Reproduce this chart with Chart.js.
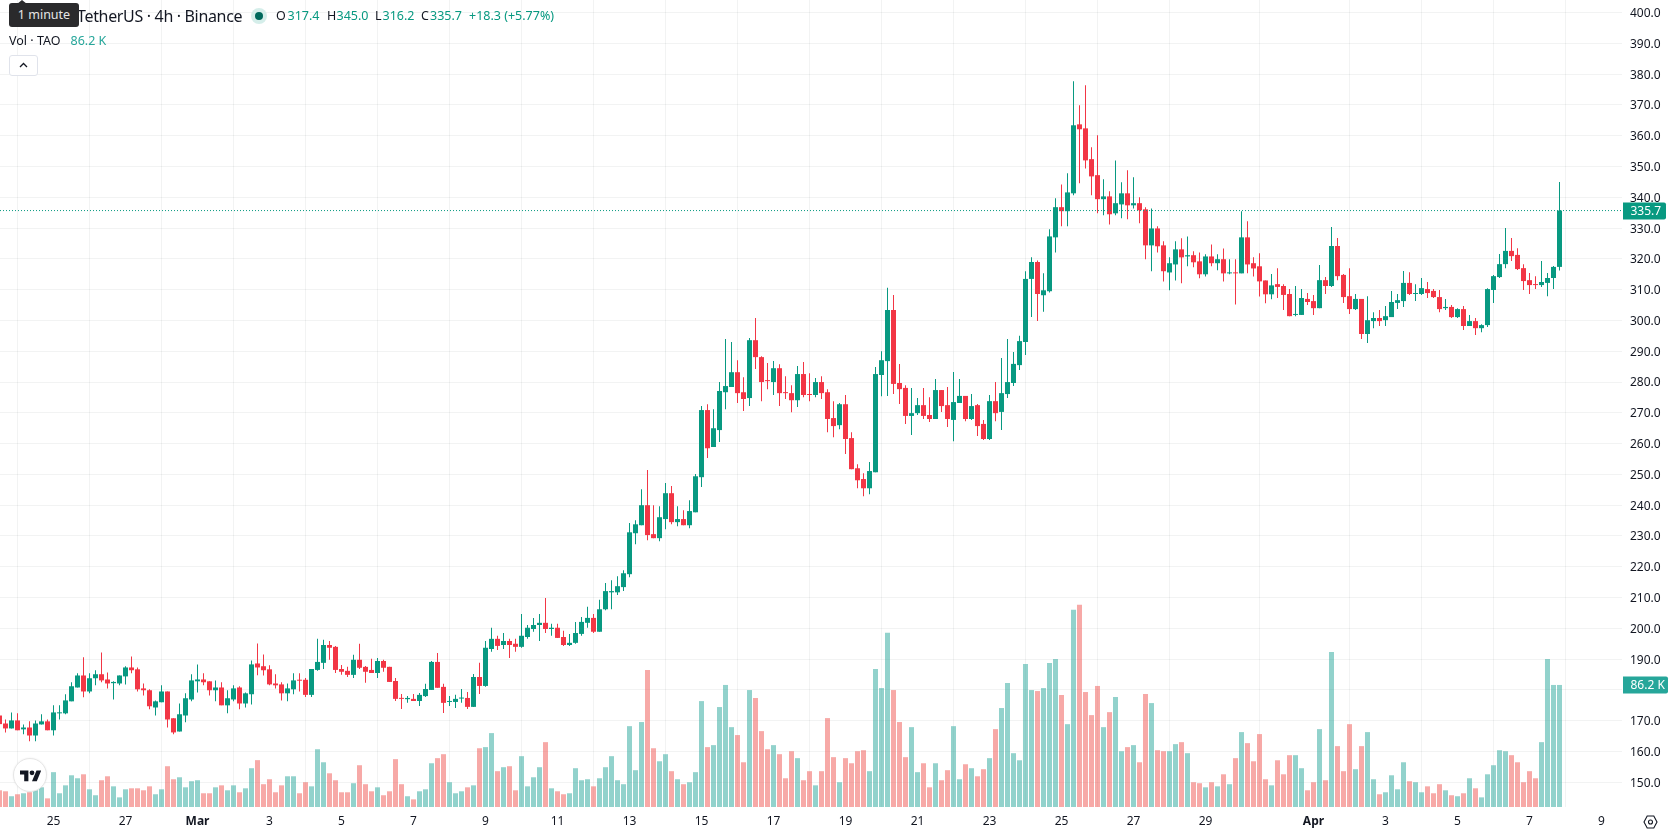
<!DOCTYPE html>
<html lang="en">
<head>
<meta charset="utf-8">
<title>TetherUS · 4h · Binance</title>
<script src="https://cdn.jsdelivr.net/npm/chart.js@4/dist/chart.umd.min.js"></script>
<style>
  html, body { margin: 0; padding: 0; background: #fff; }
  body { width: 1678px; height: 835px; position: relative; overflow: hidden; font-family: "Noto Sans", sans-serif; color: #131722; }
  canvas { position: absolute; left: 0; top: 0; }
  .t { position: absolute; white-space: nowrap; font-size: 12.5px; line-height: 16px; pointer-events: none; }
  .g { color: #089981; }
  .v { color: #26a69a; }
  #tip { position: absolute; left: 9px; top: 3px; width: 70px; height: 24px; background: #2a2a2c; border-radius: 3px; color: #e6e6e6; font-size: 12.5px; line-height: 24px; text-align: center; }
  #tip::before { content: ""; position: absolute; left: 8px; top: -3px; border-left: 5px solid transparent; border-right: 5px solid transparent; border-bottom: 4px solid #2a2a2c; }
  #dot { position: absolute; left: 251px; top: 8px; width: 16px; height: 16px; border-radius: 50%; background: #d5eeea; }
  #dot::after { content: ""; position: absolute; left: 4px; top: 4px; width: 8px; height: 8px; border-radius: 50%; background: #00695c; }
  #fold { position: absolute; left: 9px; top: 55px; width: 27px; height: 19px; border: 1px solid #e0e3eb; border-radius: 3px; background: #fff; }
  #brand { position: absolute; left: 13px; top: 758px; width: 32px; height: 32px; border: 1px solid #e6e6e6; border-radius: 50%; background: #fff; box-shadow: 0 0 2px rgba(0,0,0,.08); }
  svg { position: absolute; display: block; }
</style>
</head>
<body>
<canvas id="chart" width="1678" height="835"></canvas>

<span class="t" style="left:77px;top:7px;font-size:16px;line-height:18px;letter-spacing:-0.33px">TetherUS · 4h · Binance</span>
<div id="dot"></div>
<span class="t" style="left:276px;top:8px">O</span><span class="t g" style="left:287.5px;top:8px">317.4</span>
<span class="t" style="left:327px;top:8px">H</span><span class="t g" style="left:336.5px;top:8px">345.0</span>
<span class="t" style="left:375px;top:8px">L</span><span class="t g" style="left:382.5px;top:8px">316.2</span>
<span class="t" style="left:421px;top:8px">C</span><span class="t g" style="left:430px;top:8px">335.7</span>
<span class="t g" style="left:469px;top:8px">+18.3 (+5.77%)</span>
<span class="t" style="left:9px;top:33px">Vol · TAO</span>
<span class="t v" style="left:70.5px;top:33px">86.2 K</span>
<div id="fold"><svg style="left:9px;top:6px" width="9" height="6" viewBox="0 0 9 6"><path d="M1 5 L4.5 1.5 L8 5" fill="none" stroke="#131722" stroke-width="1.3"/></svg></div>
<div id="tip">1 minute</div>
<div id="brand"><svg style="left:5.5px;top:8.5px" width="21.6" height="16.8" viewBox="0 0 36 28"><path fill="#131722" d="M14 22H7V11H0V4h14v18zM28 22h-8l7.5-18h8L28 22z"/><circle fill="#131722" cx="20" cy="8" r="4"/></svg></div>
<svg style="left:1643px;top:815px" width="15" height="14" viewBox="0 0 15 14"><path d="M4.2 1 H10.8 L14 7 L10.8 13 H4.2 L1 7 Z" fill="none" stroke="#131722" stroke-width="1.1"/><circle cx="7.5" cy="7" r="2" fill="none" stroke="#131722" stroke-width="1.1"/></svg>

<script>
// TAO/USDT four-hour candles, one entry per bar, oldest first.
const opens = [
  171.7,169.1,167.5,170.1,167.2,167.8,165.2,168.8,169.8,166.9,
  172.4,172.4,176.3,180.8,184.7,179.5,183.8,185.1,183.4,182.2,
  182.1,184.4,187.3,186.7,180.5,179.9,174.3,176.0,179.5,170.8,
  166.5,171.7,176.9,182.8,183.4,182.8,179.9,180.8,175.0,176.9,
  180.8,175.6,178.6,188.6,187.7,186.7,182.1,181.8,178.9,180.2,
  183.3,183.3,178.4,186.5,188.8,194.6,194.0,186.8,186.2,184.9,
  189.8,187.5,186.5,185.5,189.4,187.5,182.9,177.4,177.0,177.1,
  176.4,178.0,180.0,189.1,181.0,176.1,176.1,177.2,177.4,174.5,
  184.2,181.3,193.3,196.6,194.6,195.9,195.0,194.0,197.2,199.8,
  201.1,201.8,199.8,200.2,197.2,194.6,195.3,198.2,201.8,203.4,
  198.9,206.2,211.7,211.7,213.4,217.6,230.9,233.5,240.0,230.6,
  229.3,235.5,243.9,234.5,235.5,233.5,237.7,249.1,270.9,258.9,
  264.4,276.7,278.4,283.2,276.7,274.8,293.6,288.1,280.6,280.0,
  284.5,276.7,276.4,274.1,282.6,276.1,275.8,280.0,276.7,268.3,
  266.0,272.8,261.8,252.0,248.5,245.5,250.7,282.3,286.8,303.4,
  279.7,278.1,269.0,269.9,272.5,269.3,268.0,277.4,272.5,267.7,
  273.2,275.5,268.0,272.5,266.4,261.5,273.8,270.3,276.1,279.7,
  285.5,293.0,313.5,319.0,308.2,309.5,327.0,336.8,335.5,341.3,
  363.7,362.4,352.4,347.2,339.4,340.3,334.8,337.7,341.3,337.4,
  338.1,336.1,324.4,329.9,324.4,315.6,318.2,323.1,320.8,321.2,
  319.2,315.0,320.8,318.6,319.9,315.3,315.6,315.3,327.0,318.6,
  317.6,313.0,308.5,311.8,311.2,308.6,301.8,301.8,307.0,306.3,
  304.0,313.1,311.2,324.2,314.8,307.9,303.7,307.0,295.6,299.8,
  300.8,300.1,301.1,305.7,306.3,312.2,308.6,308.6,310.2,309.6,
  307.6,304.0,304.4,301.1,303.7,298.2,299.8,297.5,298.5,309.9,
  314.1,318.3,322.6,321.3,317.0,313.1,311.8,311.5,312.2,313.8,
  317.4
];
const closes = [
  168.9,167.5,170.1,166.9,167.8,165.2,169.1,169.8,166.9,172.7,
  172.7,176.6,181.2,184.7,179.5,183.8,185.1,183.1,182.1,182.6,
  184.7,187.3,186.4,180.2,179.9,174.7,176.3,179.5,170.4,166.2,
  172.1,177.3,183.1,183.4,182.5,179.9,180.8,175.0,177.3,180.5,
  175.6,178.9,188.3,187.3,186.4,181.8,181.5,178.9,180.5,183.1,
  183.0,178.4,186.8,189.1,194.6,193.7,186.5,185.9,184.9,189.8,
  187.2,185.9,185.5,189.4,187.2,182.6,177.1,177.1,177.4,176.4,
  178.4,180.3,189.1,180.7,175.8,176.4,177.1,177.4,174.5,184.2,
  181.3,193.7,196.6,194.3,195.9,194.6,194.0,197.6,200.2,201.1,
  201.8,199.8,200.2,196.9,194.6,195.3,198.5,202.1,203.4,198.9,
  206.2,212.1,212.1,213.7,217.9,231.2,233.8,240.0,230.3,229.3,
  236.1,243.9,234.5,235.5,233.5,238.1,249.4,270.9,258.5,265.0,
  277.1,278.7,283.2,276.4,274.5,293.6,288.1,280.0,280.3,284.5,
  276.4,276.4,274.1,282.6,275.8,275.8,280.0,276.4,268.0,265.7,
  272.8,261.5,251.7,248.1,245.5,251.1,282.6,287.1,303.4,279.4,
  277.7,269.0,269.9,272.5,269.0,268.0,277.4,272.2,268.0,273.5,
  275.5,268.0,272.2,265.7,261.5,273.8,269.9,276.4,280.0,285.9,
  293.3,313.5,319.0,308.6,309.8,327.3,336.8,335.5,341.6,363.4,
  362.1,352.0,346.8,339.4,340.3,334.5,338.1,341.3,337.4,338.1,
  335.8,324.4,329.9,324.1,316.0,318.6,323.1,320.5,321.2,318.9,
  315.0,320.8,318.6,319.9,315.3,315.6,315.3,327.0,318.2,316.9,
  312.7,308.5,311.4,310.9,308.3,301.4,302.1,307.3,306.0,304.0,
  313.1,311.2,324.2,314.4,307.6,303.7,307.0,295.6,300.1,300.8,
  299.8,301.4,306.0,306.6,312.2,308.6,308.9,310.5,308.9,307.6,
  303.7,304.4,301.1,303.7,298.2,299.8,297.5,298.5,310.2,314.4,
  318.3,322.6,320.9,316.7,312.8,311.5,311.5,312.5,313.8,317.4,
  335.7
];
const highs = [
  171.9,170.4,172.7,172.4,168.8,169.8,170.1,172.1,170.4,175.0,
  175.0,178.6,182.5,185.4,190.6,185.4,186.4,192.2,185.7,182.8,
  184.7,187.7,190.9,187.3,182.1,180.2,176.6,181.5,179.5,170.8,
  175.6,178.9,185.1,188.3,185.4,182.8,183.1,182.5,179.9,181.5,
  181.2,179.2,189.6,195.1,191.5,188.0,185.1,182.5,182.1,185.4,
  185.4,183.9,186.8,196.6,196.3,195.9,194.3,188.1,187.5,191.4,
  195.0,187.8,190.1,190.4,189.8,187.5,183.9,178.7,178.0,178.7,
  179.0,182.0,189.4,192.0,182.0,178.0,178.4,180.3,179.3,185.2,
  188.8,195.9,200.2,197.6,198.5,196.6,196.6,204.7,201.1,203.4,
  204.7,209.9,201.5,201.5,199.2,198.2,202.1,203.7,207.0,204.7,
  209.3,214.7,215.6,216.9,218.9,234.2,235.1,245.2,251.4,240.0,
  239.7,247.2,246.2,239.7,238.4,241.6,250.1,272.2,272.8,271.2,
  280.0,294.0,293.0,287.1,281.6,294.3,300.8,288.4,286.2,286.8,
  285.8,281.9,279.0,285.2,286.5,282.9,281.3,281.9,277.7,273.8,
  273.2,275.8,263.7,253.3,250.4,254.0,284.9,290.0,310.6,308.3,
  285.9,279.0,278.1,274.8,278.1,275.1,281.0,277.4,278.4,283.3,
  281.0,275.5,276.1,272.9,267.7,275.8,280.0,287.8,294.0,289.8,
  295.0,316.0,320.5,319.5,315.3,329.6,339.7,344.2,347.8,377.7,
  369.9,376.4,356.3,360.2,345.9,342.0,352.0,344.9,348.8,346.5,
  340.0,336.8,336.4,330.6,325.7,320.5,325.7,326.7,327.3,322.5,
  322.1,321.5,324.7,321.5,323.4,319.9,319.9,335.5,332.2,320.5,
  321.8,313.0,315.1,317.0,311.8,310.2,311.2,310.2,308.9,308.3,
  318.0,314.1,330.4,326.8,315.1,317.0,308.6,307.0,307.9,302.7,
  303.4,304.7,309.6,308.6,316.1,315.7,311.8,313.8,312.5,310.2,
  309.9,307.0,305.0,304.0,304.7,301.8,300.8,298.8,310.5,314.8,
  321.6,330.0,326.8,323.5,318.3,315.4,314.4,319.3,315.4,317.7,
  345.0
];
const lows = [
  168.6,166.2,167.5,166.9,165.6,163.3,163.3,168.8,166.9,165.2,
  170.4,172.1,176.3,180.8,177.6,178.9,181.5,182.5,180.5,176.9,
  181.5,181.8,185.4,179.5,178.2,173.7,171.7,176.0,167.8,165.6,
  166.5,169.5,176.3,179.2,181.5,178.2,176.3,175.0,172.4,176.3,
  173.7,174.3,175.3,184.8,184.7,181.5,180.5,176.6,176.3,178.6,
  179.5,177.7,177.7,186.2,186.8,189.8,185.5,184.9,184.2,183.9,
  186.8,182.3,185.5,183.9,185.9,182.6,176.4,173.8,175.8,176.4,
  174.8,177.7,180.0,180.7,172.5,174.8,174.1,175.8,173.8,174.5,
  178.7,181.0,192.4,193.0,193.3,190.4,192.4,193.7,196.6,198.9,
  195.9,198.5,197.6,196.9,194.3,194.3,195.0,197.6,200.2,198.5,
  198.9,205.9,206.2,210.8,212.1,216.6,227.3,233.5,228.6,229.3,
  228.3,232.2,233.8,233.2,233.5,232.5,237.7,245.9,255.3,258.9,
  260.5,271.2,278.4,273.2,270.6,272.2,284.2,273.8,277.7,275.8,
  272.2,274.5,270.2,271.9,275.1,273.8,275.1,274.5,263.7,262.1,
  264.7,256.6,251.7,245.5,242.9,243.6,250.7,275.4,275.5,276.1,
  272.9,266.4,262.8,269.3,268.0,267.0,268.0,270.3,265.4,260.8,
  273.2,267.3,267.7,262.5,261.2,261.2,267.3,264.4,274.8,278.7,
  283.9,288.8,301.1,299.8,302.8,309.1,322.1,330.6,330.6,340.7,
  344.6,349.4,340.7,334.8,334.2,331.2,334.2,333.2,332.9,336.4,
  331.6,319.9,316.0,322.1,312.7,309.8,313.0,312.1,317.6,317.3,
  313.7,314.3,317.6,316.3,312.7,315.0,305.2,315.3,315.3,314.3,
  307.8,305.6,306.9,307.3,303.4,301.4,301.4,301.8,305.0,301.8,
  304.0,308.6,310.9,313.1,305.7,302.1,303.4,294.0,292.7,297.5,
  298.2,298.2,301.1,303.7,304.4,308.3,306.3,308.3,307.3,307.3,
  302.7,303.4,300.8,300.8,296.9,298.2,295.3,296.2,297.9,305.7,
  313.8,317.0,319.3,316.4,309.9,308.6,310.2,310.9,307.9,310.2,
  316.2
];
// Traded volume per bar, in thousands of TAO.
const volumes = [
  11.8,11.1,7.6,9.0,9.7,10.4,11.8,13.9,6.1,24.6,
  9.7,15.3,22.4,20.3,23.1,12.5,8.3,18.9,21.7,14.6,
  6.8,12.5,13.2,13.2,11.8,14.6,9.0,12.5,28.8,19.6,
  21.0,13.9,18.2,18.9,9.7,9.7,13.9,15.3,11.8,15.3,
  10.4,13.2,27.4,33.1,16.1,19.6,10.4,15.3,21.7,21.7,
  9.7,17.5,14.6,40.8,31.6,23.8,18.9,10.4,10.4,16.8,
  29.5,16.1,11.1,13.9,8.3,11.1,33.8,16.1,7.6,5.4,
  11.1,12.5,30.9,34.5,37.3,17.5,9.7,11.1,13.9,15.3,
  41.5,42.3,52.2,25.3,28.1,28.8,11.8,35.9,14.6,21.0,
  28.1,45.8,13.2,11.1,9.0,9.7,27.4,18.9,19.6,14.6,
  20.3,28.1,35.9,18.9,16.1,57.1,26.0,60.0,96.8,41.5,
  32.3,37.3,25.3,19.6,16.1,17.5,24.6,74.8,42.3,43.7,
  70.6,86.2,56.4,50.8,31.6,82.6,77.0,53.6,40.8,43.7,
  37.3,20.3,39.4,34.5,18.9,25.3,15.3,25.3,62.8,35.2,
  17.5,34.5,30.9,39.4,40.1,25.3,97.5,84.0,123.0,82.6,
  60.0,35.2,56.4,24.6,30.9,13.9,30.9,18.9,26.0,57.1,
  19.6,30.2,27.4,21.7,26.7,34.5,55.0,69.9,87.6,38.0,
  33.0,101.0,82.6,81.9,84.0,101.7,104.6,79.1,58.5,139.3,
  142.8,81.2,64.9,85.5,56.4,67.0,77.7,39.4,42.3,43.7,
  31.6,79.8,73.4,40.1,39.4,39.4,44.4,45.8,38.0,17.5,
  16.8,13.9,17.5,14.6,23.1,16.1,34.5,52.9,45.1,32.3,
  51.5,19.6,15.3,33.0,23.1,36.6,36.6,27.4,11.8,17.5,
  55.0,18.9,109.5,43.0,25.3,58.5,26.7,43.0,52.9,19.6,
  9.0,10.4,22.4,12.5,31.6,18.2,17.5,10.4,14.6,9.7,
  16.1,11.8,8.3,7.6,9.7,20.3,13.2,6.8,23.1,29.5,
  40.1,39.4,36.6,31.6,17.5,25.3,20.3,45.8,104.6,86.2,
  86.2
];
const priceTicks = [150,160,170,180,190,200,210,220,230,240,250,260,270,280,290,300,310,320,330,340,350,360,370,380,390,400];
const dateTickBars = [9,21,33,45,57,69,81,93,105,117,129,141,153,165,177,189,201,219,231,243,255,267];
const dateTickLabels = ['25','27','Mar','3','5','7','9','11','13','15','17','19','21','23','25','27','29','Apr','3','5','7','9'];

const UP = '#089981', DOWN = '#f23645';
const VOL_UP = 'rgba(38,166,154,0.5)', VOL_DOWN = 'rgba(239,83,80,0.5)';
const GRID = 'rgba(42,46,57,0.06)';
const FONT = '"Noto Sans", sans-serif';

const X_MIN = 0.0833, X_MAX = 270.4167;
const HIDDEN_PRICE_LABEL = 180; // covered by the volume badge
const lastClose = closes[closes.length - 1];
const lastVolume = volumes[volumes.length - 1];

const isUp = closes.map((c, i) => c >= opens[i]);
const candleColors = isUp.map(u => (u ? UP : DOWN));
const volumeColors = isUp.map(u => (u ? VOL_UP : VOL_DOWN));

function roundedBadge(ctx, left, right, cy, h, fill, text, textX) {
  ctx.save();
  ctx.fillStyle = fill;
  ctx.beginPath();
  ctx.roundRect(left, cy - h / 2, right - left, h, [0, 2, 2, 0]);
  ctx.fill();
  ctx.fillStyle = '#fff';
  ctx.font = '12px ' + FONT;
  ctx.textAlign = 'left';
  ctx.textBaseline = 'middle';
  ctx.fillText(text, textX, cy + 1);
  ctx.restore();
}

// Price labels sit one pixel below their grid line; last-value badges go on top of the axis.
const priceAxisExtras = {
  id: 'priceAxisExtras',
  beforeDraw(chart) {
    chart.scales.y.getLabelItems(chart.chartArea).forEach(item => {
      const [tx, ty] = item.options.translation;
      item.options.translation = [tx, ty + 1];
    });
  },
  afterDraw(chart) {
    const { ctx, scales } = chart;
    roundedBadge(ctx, 1623, 1666, Math.round(scales.y.getPixelForValue(lastClose)), 17, UP, lastClose.toFixed(1), 1630.5);
    roundedBadge(ctx, 1623, 1668, Math.round(scales.yVol.getPixelForValue(lastVolume)), 17, '#26a69a', lastVolume.toFixed(1) + ' K', 1630.5);
  }
};

new Chart(document.getElementById('chart'), {
  type: 'bar',
  plugins: [priceAxisExtras],
  data: {
    datasets: [
      {
        type: 'line', order: 0, yAxisID: 'y',
        data: [{ x: X_MIN, y: lastClose }, { x: X_MAX, y: lastClose }],
        borderColor: UP, borderWidth: 1, borderDash: [1, 2], pointRadius: 0, tension: 0
      },
      {
        order: 1, yAxisID: 'y', grouped: false, barThickness: 5, minBarLength: 1, inflateAmount: 0,
        data: opens.map((o, i) => ({ x: i, y: [o, closes[i]] })),
        backgroundColor: candleColors, borderWidth: 0
      },
      {
        order: 2, yAxisID: 'y', grouped: false, barThickness: 1, inflateAmount: 0,
        data: lows.map((l, i) => ({ x: i, y: [l, highs[i]] })),
        backgroundColor: candleColors, borderWidth: 0
      },
      {
        order: 3, yAxisID: 'yVol', grouped: false, barThickness: 5, inflateAmount: 0,
        data: volumes.map((v, i) => ({ x: i, y: v })),
        backgroundColor: volumeColors, borderWidth: 0
      }
    ]
  },
  options: {
    responsive: false,
    animation: false,
    events: [],
    layout: { padding: 0 },
    plugins: { legend: { display: false }, tooltip: { enabled: false }, title: { display: false } },
    scales: {
      x: {
        type: 'linear', position: 'bottom', min: X_MIN, max: X_MAX, offset: false,
        border: { display: false },
        grid: { color: GRID, lineWidth: 1, drawTicks: false },
        afterBuildTicks(s) { s.ticks = dateTickBars.map(v => ({ value: v })); },
        afterFit(s) { s.height = 28; s.paddingLeft = 0; s.paddingRight = 0; s.paddingTop = 0; s.paddingBottom = 0; },
        ticks: {
          autoSkip: false, maxRotation: 0, minRotation: 0, padding: 7, color: '#131722',
          callback: (v, i) => dateTickLabels[i],
          font: c => ({ family: FONT, size: 12, weight: c.tick && /^[A-Z]/.test(dateTickLabels[c.index] || '') ? 'bold' : 'normal' })
        }
      },
      y: {
        type: 'linear', position: 'right', min: 141.98, max: 404.09,
        border: { display: false },
        grid: { color: GRID, lineWidth: 1, drawTicks: false },
        afterBuildTicks(s) { s.ticks = priceTicks.map(v => ({ value: v })); },
        afterFit(s) { s.width = 56; s.paddingLeft = 0; s.paddingRight = 0; s.paddingTop = 0; s.paddingBottom = 0; },
        ticks: {
          autoSkip: false, padding: 8, crossAlign: 'near', color: '#131722',
          font: { family: FONT, size: 12 },
          callback: v => (v === HIDDEN_PRICE_LABEL ? '' : v.toFixed(1))
        }
      },
      yVol: {
        type: 'linear', display: false, min: 0, max: 570,
        grid: { display: false }
      }
    }
  }
});
</script>
</body>
</html>
